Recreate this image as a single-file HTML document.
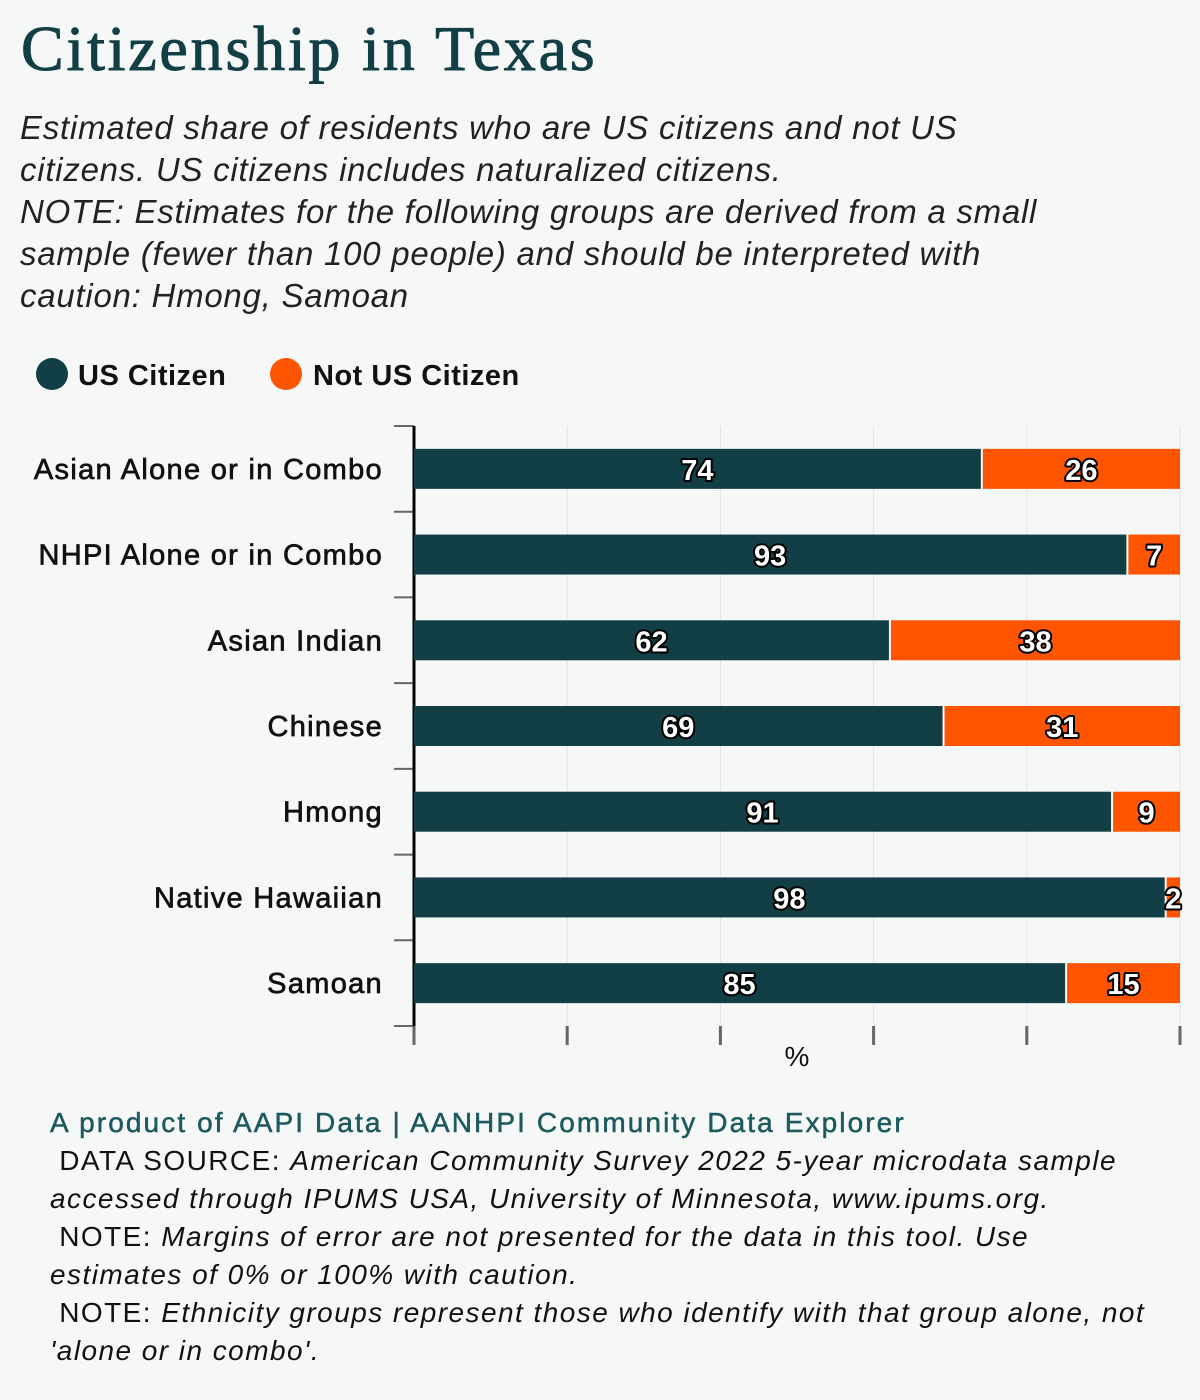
<!DOCTYPE html>
<html><head><meta charset="utf-8"><style>
body{margin:0;width:1200px;height:1400px;background:#f6f8f8;font-family:"Liberation Sans",sans-serif;position:relative;overflow:hidden}
.t{position:absolute;left:21px;top:12px;font-family:"Liberation Serif",serif;font-weight:normal;font-size:64px;color:#123f45;margin:0;letter-spacing:2.8px;-webkit-text-stroke:1px #123f45}
.s{position:absolute;left:20px;top:107px;font-style:italic;font-size:33px;line-height:42px;color:#222;width:1170px;letter-spacing:0.75px;white-space:nowrap}
.f{position:absolute;left:50px;top:1104px;font-size:28px;line-height:38px;color:#111;width:1150px;letter-spacing:1.45px;white-space:nowrap}
</style></head><body>
<h1 class="t">Citizenship in Texas</h1>
<div class="s">Estimated share of residents who are US citizens and not US<br>citizens. US citizens includes naturalized citizens.<br>NOTE: Estimates for the following groups are derived from a small<br>sample (fewer than 100 people) and should be interpreted with<br>caution: Hmong, Samoan</div>
<svg id="c" width="1200" height="1100" style="position:absolute;left:0;top:0"></svg>
<div class="f"><span style="color:#1d5a5e;-webkit-text-stroke:0.5px #1d5a5e;letter-spacing:2.1px">A product of AAPI Data | AANHPI Community Data Explorer</span><br>&nbsp;DATA SOURCE: <i>American Community Survey 2022 5-year microdata sample</i><br><i>accessed through IPUMS USA, University of Minnesota, www.ipums.org.</i><br>&nbsp;NOTE: <i>Margins of error are not presented for the data in this tool. Use</i><br><i>estimates of 0% or 100% with caution.</i><br>&nbsp;NOTE: <i>Ethnicity groups represent those who identify with that group alone, not</i><br><i>'alone or in combo'.</i></div>
<script>
const categories=["Asian Alone or in Combo","NHPI Alone or in Combo","Asian Indian","Chinese","Hmong","Native Hawaiian","Samoan"];
const citizen=[74,93,62,69,91,98,85];
const notCitizen=[26,7,38,31,9,2,15];
const ticks=[0,20,40,60,80,100];
const svg=document.getElementById('c');const NS='http://www.w3.org/2000/svg';
const x0=414,x1=1180,yTop=426,yBot=1026;
const bw=(yBot-yTop)/categories.length;
const X=v=>x0+(x1-x0)*v/100;const Y=i=>yTop+bw*i+bw/2;
function mk(t,a,p){const e=document.createElementNS(NS,t);for(const k in a)e.setAttribute(k,a[k]);(p||svg).appendChild(e);return e;}
let g=mk('g',{});
mk('circle',{cx:52,cy:374,r:16,fill:'#123f45'},g);
let lt=mk('text',{x:78,y:385,'font-size':29,'font-weight':'bold',fill:'#111','letter-spacing':0.5},g);lt.textContent='US Citizen';
mk('circle',{cx:286,cy:374,r:16,fill:'#ff5500'},g);
lt=mk('text',{x:313,y:385,'font-size':29,'font-weight':'bold',fill:'#111','letter-spacing':0.5},g);lt.textContent='Not US Citizen';
ticks.forEach(t=>{let l=mk('line',{x1:X(t),x2:X(t),y1:yTop,y2:yBot,stroke:'#e2e4e4','stroke-width':1});
let tk=mk('line',{x1:X(t),x2:X(t),y1:yBot,y2:yBot+19,stroke:'#666','stroke-width':3});});
for(let i=0;i<=categories.length;i++){let tk=mk('line',{x1:394,x2:414,y1:yTop+bw*i,y2:yTop+bw*i,stroke:'#666','stroke-width':2});}
let ax=mk('line',{x1:414,x2:414,y1:yTop,y2:yBot,stroke:'#000','stroke-width':3});
let xt=mk('text',{x:797,y:1066,'font-size':28,'text-anchor':'middle',fill:'#111'});xt.textContent='%';
function lab(x,y,v){const t=mk('text',{x:x,y:y+11,'font-size':29,'font-weight':'bold','text-anchor':'middle',fill:'#fff',stroke:'#000','stroke-width':4,'paint-order':'stroke','stroke-linejoin':'round'});t.textContent=v;}
categories.forEach((c,i)=>{const y=Y(i);
let cl=mk('text',{x:383,y:y+10,'font-size':29,'text-anchor':'end',fill:'#111',stroke:'#111','stroke-width':0.7,'letter-spacing':1.3});cl.textContent=c;
let a=mk('rect',{x:X(0),y:y-20,width:X(citizen[i])-X(0),height:40,fill:'#123f45'});
let b=mk('rect',{x:X(citizen[i])+2,y:y-20,width:Math.max(0,X(citizen[i]+notCitizen[i])-X(citizen[i])-2),height:40,fill:'#ff5500'});
lab((X(0)+X(citizen[i]))/2,y,citizen[i]);lab((X(citizen[i])+X(citizen[i]+notCitizen[i]))/2+1,y,notCitizen[i]);});
</script>
</body></html>
